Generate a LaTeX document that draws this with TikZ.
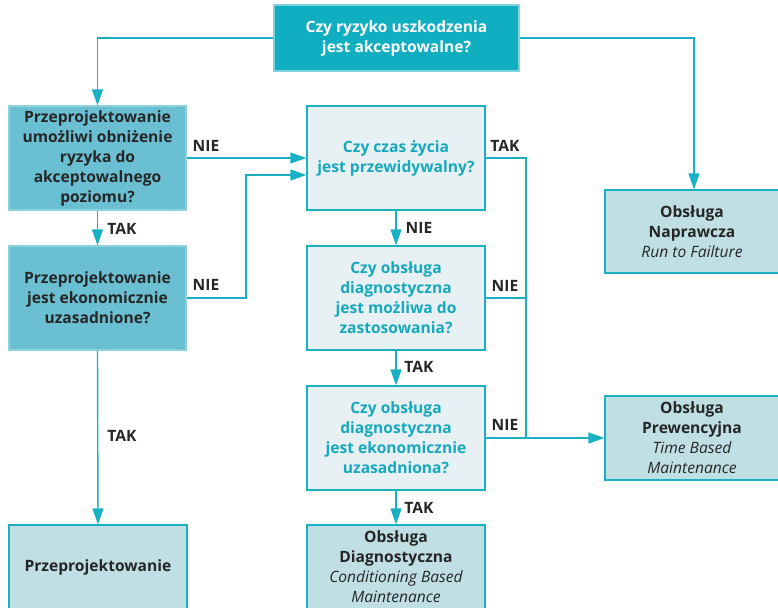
\documentclass[tikz,border=0pt]{standalone}
\usepackage{fontspec}
\setmainfont{Open Sans}
\usetikzlibrary{arrows.meta,calc}
\definecolor{topfill}{HTML}{10AEC1}
\definecolor{topline}{HTML}{7FD3DE}
\definecolor{darkfill}{HTML}{6ABFD3}
\definecolor{darkline}{HTML}{8FD0DD}
\definecolor{resfill}{HTML}{BFDFE5}
\definecolor{qfill}{HTML}{E7F0F3}
\definecolor{teal}{HTML}{1AB0C3}
\definecolor{tealtext}{HTML}{16A8BC}
\definecolor{ink}{HTML}{262626}
\tikzset{
  box/.style={rectangle, inner sep=0pt, align=center, font=\fontsize{15.6}{20}\selectfont\bfseries, line width=1.3pt},
  topbox/.style={box, fill=topfill, draw=topline, text=white, minimum width=245pt, minimum height=66pt},
  redbox/.style={box, fill=darkfill, draw=darkline, text=ink, minimum width=177pt, minimum height=104pt},
  qbox/.style={box, fill=qfill, draw=teal, text=tealtext, minimum width=178pt, minimum height=104pt},
  resbox/.style={box, fill=resfill, draw=teal, text=ink},
  conn/.style={draw=teal, line width=1.4pt},
  arr/.style={conn, -{Triangle[length=16pt,width=11pt]}},
  lab/.style={font=\fontsize{15.6}{18}\selectfont\bfseries, text=ink, inner sep=0pt}
}
\begin{document}
\begin{tikzpicture}[x=1pt,y=-1pt]
\useasboundingbox (0,0) rectangle (778,607);
\clip (0,0) rectangle (778,607);
\node[topbox] (top) at (396.5,38) {Czy ryzyko uszkodzenia\\jest akceptowalne?};
\node[redbox] (L1) at (97.5,158) {Przeprojektowanie\\umożliwi obniżenie\\ryzyka do\\akceptowalnego\\poziomu?};
\node[redbox] (L2) at (97.5,298) {Przeprojektowanie\\jest ekonomicznie\\uzasadnione?};
\node[resbox, minimum width=178pt, minimum height=84pt] (L3) at (98,567) {Przeprojektowanie};
\node[qbox] (M1) at (396,158) {Czy czas życia\\jest przewidywalny?};
\node[qbox] (M2) at (396,298) {Czy obsługa\\diagnostyczna\\jest możliwa do\\zastosowania?};
\node[qbox] (M3) at (396,438) {Czy obsługa\\diagnostyczna\\jest ekonomicznie\\uzasadniona?};
\node[resbox, minimum width=178pt, minimum height=84pt] (M4) at (396,567) {Obsługa\\Diagnostyczna\\{\normalfont\itshape Conditioning Based}\\{\normalfont\itshape Maintenance}};
\node[resbox, minimum width=174pt, minimum height=83pt] (R1) at (692,231.5) {Obsługa\\Naprawcza\\{\normalfont\itshape Run to Failture}};
\node[resbox, minimum width=174pt, minimum height=84pt] (R2) at (692,438) {Obsługa\\Prewencyjna\\{\normalfont\itshape Time Based}\\{\normalfont\itshape Maintenance}};
\coordinate (jn) at (526,438);
\coordinate (kn) at (246,298);
% connectors
\draw[arr] (top.west) -| (L1.north);
\draw[arr] (top.east) -| ($(R1.north)+(2,0)$);
\draw[arr] (L1.east) -- (M1.west);
\draw[arr] (L2.east) -- (kn) |- ($(M1.west)+(0,17)$);
\draw[arr] (L1.south) -- (L2.north);
\draw[arr] (L2.south) -- (L3.north);
\draw[arr] (M1.south) -- (M2.north);
\draw[arr] (M2.south) -- (M3.north);
\draw[arr] (M3.south) -- (M4.north);
\draw[conn] (M1.east) -| (jn);
\draw[conn] (M2.east) -- (M2.east -| jn);
\draw[arr] (M3.east) -- (R2.west);
% labels
\node[lab] (n1) at (206,146) {NIE};
\node[lab] (n2) at (206,285) {NIE};
\node[lab] (t1) at (122,229) {TAK};
\node[lab] (t2) at (122,436) {TAK};
\node[lab] (n3) at (419,228) {NIE};
\node[lab] (t3) at (419,367) {TAK};
\node[lab] (t4) at (419,508) {TAK};
\node[lab] (t5) at (505,146) {TAK};
\node[lab] (n4) at (505,286) {NIE};
\node[lab] (n5) at (505,425) {NIE};
\end{tikzpicture}
\end{document}
